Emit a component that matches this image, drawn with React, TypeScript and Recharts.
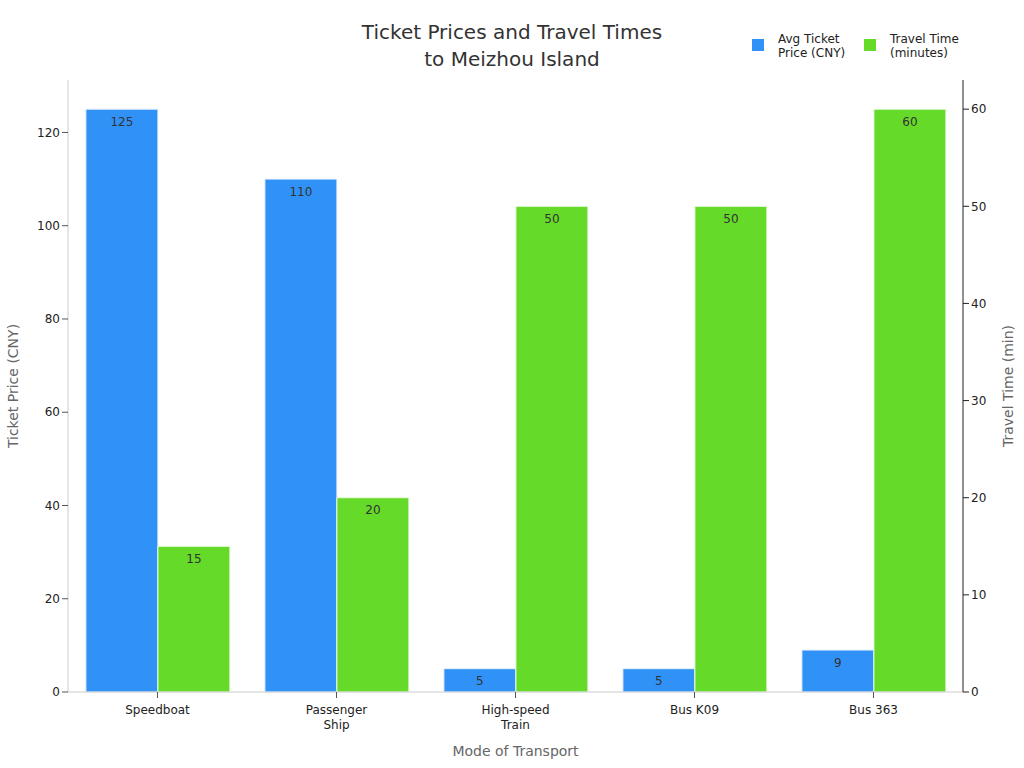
import React from "react";
import { BarChart, Bar, XAxis, YAxis, LabelList, Label } from "recharts";

const categories = ["Speedboat", "Passenger Ship", "High-speed Train", "Bus K09", "Bus 363"];
const tickLabels = ["Speedboat", "Passenger\nShip", "High-speed\nTrain", "Bus K09", "Bus 363"];
const ticketPrice = [125, 110, 5, 5, 9];
const travelTime = [15, 20, 50, 50, 60];
const priceTicks = [0, 20, 40, 60, 80, 100, 120];
const timeTicks = [0, 10, 20, 30, 40, 50, 60];

const data = categories.map((name, i) => ({
  name,
  tick: tickLabels[i],
  price: ticketPrice[i],
  time: travelTime[i],
}));

const FONT = "DejaVu Sans, Verdana, sans-serif";
const BLUE = "#3092f7";
const GREEN = "#66da28";

const CategoryTick = (props: any) => {
  const { x, y, index } = props;
  const lines = tickLabels[index].split("\n");
  return (
    <text x={x} y={y} textAnchor="middle" fill="#222" fontSize={12} fontFamily={FONT}>
      {lines.map((ln, i) => (
        <tspan key={i} x={x} dy={i === 0 ? 14 : 15}>
          {ln}
        </tspan>
      ))}
    </text>
  );
};

const SideLabel = (props: any) => {
  const { viewBox, value, side } = props;
  const cx = side === "left" ? viewBox.x + 13 : viewBox.x + viewBox.width - 16;
  const cy = viewBox.y + viewBox.height / 2;
  return (
    <text
      x={cx}
      y={cy}
      transform={`rotate(-90, ${cx}, ${cy})`}
      textAnchor="middle"
      dominantBaseline="central"
      fill="#666"
      fontSize={14}
      fontFamily={FONT}
    >
      {value}
    </text>
  );
};

const BottomLabel = (props: any) => {
  const { viewBox, value } = props;
  return (
    <text
      x={viewBox.x + viewBox.width / 2}
      y={viewBox.y + 59}
      textAnchor="middle"
      dominantBaseline="central"
      fill="#666"
      fontSize={14}
      fontFamily={FONT}
    >
      {value}
    </text>
  );
};

const legendItems = [
  { color: BLUE, lines: ["Avg Ticket", "Price (CNY)"], left: 752 },
  { color: GREEN, lines: ["Travel Time", "(minutes)"], left: 864 },
];

export default function App() {
  return (
    <div style={{ position: "absolute", left: 0, top: 0, width: 1024, height: 768, fontFamily: FONT }}>
      <div
        style={{
          position: "absolute",
          left: 0,
          width: 1024,
          top: 19,
          textAlign: "center",
          fontSize: 20,
          lineHeight: "27px",
          color: "#333",
        }}
      >
        Ticket Prices and Travel Times
        <br />
        to Meizhou Island
      </div>
      {legendItems.map((it) => (
        <div key={it.left} style={{ position: "absolute", left: it.left, top: 32 }}>
          <div
            style={{ position: "absolute", left: 0, top: 7, width: 12, height: 12, background: it.color }}
          />
          <div
            style={{
              position: "absolute",
              left: 26,
              top: 0,
              fontSize: 12,
              lineHeight: "14px",
              color: "#222",
              whiteSpace: "nowrap",
            }}
          >
            {it.lines[0]}
            <br />
            {it.lines[1]}
          </div>
        </div>
      ))}
      <BarChart
        width={1024}
        height={768}
        data={data}
        margin={{ top: 80, right: 0, bottom: 0, left: 0 }}
        barCategoryGap="10%"
        barGap={0}
        style={{ position: "absolute", left: 0, top: 0 }}
      >
        <XAxis
          dataKey="name"
          height={76}
          tick={<CategoryTick />}
          interval={0}
          axisLine={{ stroke: "#ccc" }}
          tickLine={{ stroke: "#555" }}
        >
          <Label value="Mode of Transport" content={<BottomLabel />} />
        </XAxis>
        <YAxis
          yAxisId="left"
          orientation="left"
          width={68}
          domain={[0, 131.25]}
          ticks={priceTicks}
          tick={{ fill: "#222", fontSize: 12, fontFamily: FONT }}
          axisLine={{ stroke: "#ccc" }}
          tickLine={{ stroke: "#555" }}
        >
          <Label value="Ticket Price (CNY)" content={<SideLabel side="left" />} />
        </YAxis>
        <YAxis
          yAxisId="right"
          orientation="right"
          width={61}
          domain={[0, 63]}
          ticks={timeTicks}
          tick={{ fill: "#222", fontSize: 12, fontFamily: FONT }}
          axisLine={{ stroke: "#222" }}
          tickLine={{ stroke: "#222" }}
        >
          <Label value="Travel Time (min)" content={<SideLabel side="right" />} />
        </YAxis>
        <Bar
          yAxisId="left"
          dataKey="price"
          fill={BLUE}
          stroke="#e8f0ff"
          strokeWidth={1}
          isAnimationActive={false}
        >
          <LabelList dataKey="price" position="insideTop" offset={8} fill="#333" fontSize={12} fontFamily={FONT} />
        </Bar>
        <Bar
          yAxisId="right"
          dataKey="time"
          fill={GREEN}
          stroke="#effbe8"
          strokeWidth={1}
          isAnimationActive={false}
        >
          <LabelList dataKey="time" position="insideTop" offset={8} fill="#333" fontSize={12} fontFamily={FONT} />
        </Bar>
      </BarChart>
    </div>
  );
}
